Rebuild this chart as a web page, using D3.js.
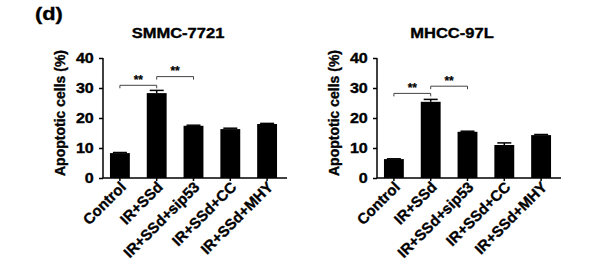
<!DOCTYPE html>
<html>
<head>
<meta charset="utf-8">
<script src="https://cdn.jsdelivr.net/npm/d3@7"></script>
<style>
  body { margin: 0; background: #fff; }
  svg { display: block; }
  text { font-family: "Liberation Sans", Arial, sans-serif; font-weight: bold; fill: #000; stroke: #000; stroke-width: 0.35px; }
</style>
</head>
<body>
<div id="chart"></div>
<script>
// groups on the x axis
const groups = ["Control", "IR+SSd", "IR+SSd+sip53", "IR+SSd+CC", "IR+SSd+MHY"];
const yTicks = [0, 10, 20, 30, 40];

// SMMC-7721
const smmcMeans = [8.3, 28.3, 17.4, 16.3, 18.0];
const smmcErrors = [0.2, 0.9, 0.2, 0.3, 0.2];
const smmcSig = [[0, 1, 30.9], [1, 2, 33.8]];

// MHCC-97L
const mhccMeans = [6.3, 25.4, 15.4, 11.0, 14.3];
const mhccErrors = [0.1, 0.8, 0.2, 0.7, 0.2];
const mhccSig = [[0, 1, 28.2], [1, 2, 30.6]];

const W = 607, H = 269;
const svg = d3.select("#chart").append("svg")
    .attr("width", W)
    .attr("height", H);

// panel label
svg.append("text")
    .attr("transform", "translate(35,20) scale(1.15,1)")
    .style("font-size", "19px")
    .text("(d)");

const y = d3.scaleLinear().domain([0, 40]).range([178, 58]);

function drawPanel(axisX, title, means, errors, sig) {
    const x = d3.scaleBand()
        .domain(groups)
        .range([axisX - 1.5, axisX + 182.5])
        .paddingInner(0.46)
        .paddingOuter(0.23);

    const g = svg.append("g");

    // title
    g.append("text")
        .attr("transform", "translate(" + (axisX + 75) + ",38) scale(1.18,1)")
        .attr("text-anchor", "middle")
        .style("font-size", "14px")
        .text(title);

    // y axis label
    g.append("text")
        .attr("transform", "translate(" + (axisX - 38) + "," + 113 + ") rotate(-90)")
        .attr("text-anchor", "middle")
        .style("font-size", "14px")
        .text("Apoptotic cells (%)");

    // bars
    g.selectAll("rect.bar")
        .data(means)
        .enter().append("rect")
        .attr("class", "bar")
        .attr("x", (d, i) => x(groups[i]))
        .attr("width", x.bandwidth())
        .attr("y", d => y(d))
        .attr("height", d => y(0) - y(d))
        .attr("fill", "#000");

    // error bars (upper half only)
    const eb = g.selectAll("g.err")
        .data(means)
        .enter().append("g")
        .attr("class", "err");
    eb.append("line")
        .attr("x1", (d, i) => x(groups[i]) + x.bandwidth() / 2)
        .attr("x2", (d, i) => x(groups[i]) + x.bandwidth() / 2)
        .attr("y1", d => y(d))
        .attr("y2", (d, i) => y(d + errors[i]))
        .attr("stroke", "#000").attr("stroke-width", 1.5);
    eb.append("line")
        .attr("x1", (d, i) => x(groups[i]) + x.bandwidth() / 2 - 7)
        .attr("x2", (d, i) => x(groups[i]) + x.bandwidth() / 2 + 7)
        .attr("y1", (d, i) => y(d + errors[i]))
        .attr("y2", (d, i) => y(d + errors[i]))
        .attr("stroke", "#000").attr("stroke-width", 1.5);

    // y axis
    const yAxis = g.append("g")
        .attr("transform", "translate(" + axisX + ",0)")
        .call(d3.axisLeft(y).tickValues(yTicks).tickSize(4).tickPadding(4));
    yAxis.select(".domain").attr("stroke-width", 1.5).attr("d", "M0," + y(40) + "V" + y(0));
    yAxis.selectAll(".tick line").attr("stroke-width", 1.5);
    yAxis.selectAll(".tick text")
        .attr("font-size", null)
        .attr("font-family", null)
        .style("font-size", "14px")
        .attr("transform", "scale(1.15,1)");

    // x axis
    const xAxis = g.append("g")
        .attr("transform", "translate(0," + y(0) + ")")
        .call(d3.axisBottom(x).tickSize(3).tickSizeOuter(0));
    xAxis.select(".domain").attr("stroke-width", 1.5).attr("d", "M" + axisX + ",0H" + (axisX + 184));
    xAxis.selectAll(".tick line").attr("stroke-width", 1.5);
    xAxis.selectAll(".tick text")
        .attr("font-size", null)
        .attr("font-family", null)
        .style("font-size", "15px")
        .attr("text-anchor", "end")
        .attr("dy", null)
        .attr("x", 0)
        .attr("y", 0)
        .attr("transform", "translate(7,10) rotate(-45)");

    // significance brackets
    sig.forEach(s => {
        const x1 = x(groups[s[0]]) + x.bandwidth() / 2;
        const x2 = x(groups[s[1]]) + x.bandwidth() / 2;
        const yy = y(s[2]);
        g.append("path")
            .attr("d", "M" + x1 + "," + (yy + 3) + "V" + yy + "H" + x2 + "V" + (yy + 3))
            .attr("fill", "none")
            .attr("stroke", "#444")
            .attr("stroke-width", 1);
        g.append("text")
            .attr("x", (x1 + x2) / 2)
            .attr("y", yy - 1.5)
            .attr("text-anchor", "middle")
            .style("font-size", "12px")
            .style("stroke-width", "0.2px")
            .text("**");
    });
}

drawPanel(103, "SMMC-7721", smmcMeans, smmcErrors, smmcSig);
drawPanel(377, "MHCC-97L", mhccMeans, mhccErrors, mhccSig);
</script>
</body>
</html>
